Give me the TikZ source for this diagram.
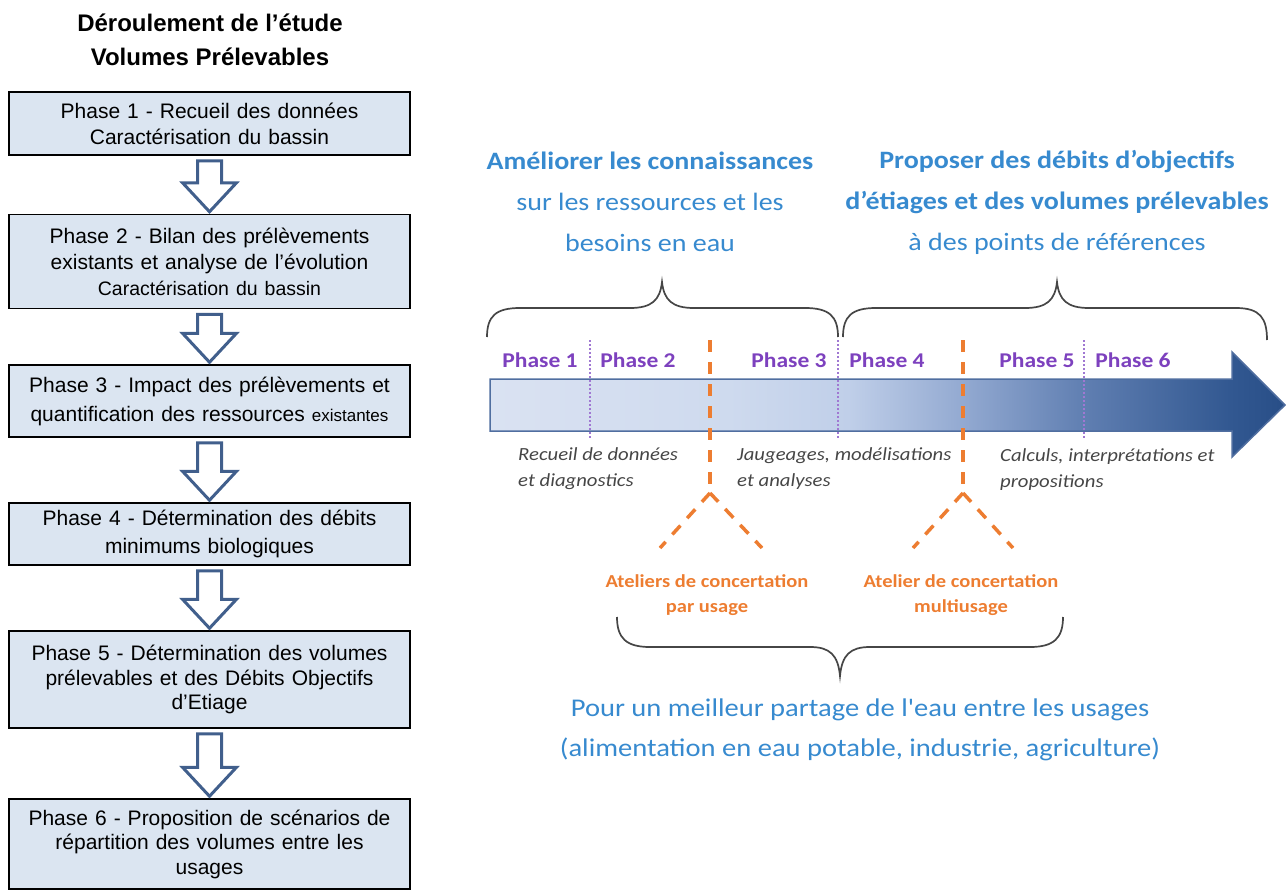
\documentclass[tikz,border=0pt]{standalone}
\usepackage{fontspec}
\setmainfont{Liberation Sans}
\newfontfamily\calfont[FakeStretch=1.12]{Carlito}
\usetikzlibrary{calc}
\definecolor{boxfill}{RGB}{219,229,241}
\definecolor{arrblue}{RGB}{65,95,140}
\definecolor{headblue}{RGB}{55,138,207}
\definecolor{phasepurple}{RGB}{125,65,190}
\definecolor{seppurple}{RGB}{160,120,210}
\definecolor{oranged}{RGB}{237,125,49}
\definecolor{itgray}{RGB}{70,70,70}
\definecolor{bracegray}{RGB}{70,70,70}
\definecolor{baredge}{RGB}{80,110,160}
\definecolor{g0}{RGB}{218,226,242}
\definecolor{g1}{RGB}{206,218,238}
\definecolor{g2}{RGB}{192,207,233}
\definecolor{g3}{RGB}{145,168,208}
\definecolor{g4}{RGB}{95,126,177}
\definecolor{g5}{RGB}{50,88,145}
\definecolor{g6}{RGB}{40,78,135}
\pgfdeclarehorizontalshading{barshade}{100bp}{color(0bp)=(g0); color(25bp)=(g0); color(40bp)=(g1); color(47.5bp)=(g2); color(55bp)=(g3); color(62.5bp)=(g4); color(71.5bp)=(g5); color(75bp)=(g6); color(100bp)=(g6)}
\newcommand\blockarrow[2]{%
  \draw[blockarr] let \p1=(#1.south), \p2=(#2.north), \n1={\y1-5pt}, \n2={\y2+2pt}, \n3={\y2+31pt} in
  (\x1-12pt,\n1) -- (\x1+12pt,\n1) -- (\x1+12pt,\n3) -- (\x1+27pt,\n3) -- (\x1,\n2)
  -- (\x1-27pt,\n3) -- (\x1-12pt,\n3) -- cycle;}
\begin{document}
\begin{tikzpicture}[x=1pt,y=-1pt,
  phasebox/.style={draw=black, line width=1.5pt, fill=boxfill, minimum width=401pt,
    text width=395pt, align=center, inner sep=0pt, font=\fontsize{21}{26}\selectfont},
  blockarr/.style={draw=arrblue, line width=3pt, fill=white, line join=miter},
  headtxt/.style={align=center, inner sep=0pt, text=headblue, font=\calfont\fontsize{25}{41}\selectfont},
  phaselbl/.style={inner sep=0pt, text=phasepurple, font=\calfont\fontsize{21}{24}\selectfont\bfseries},
  itxt/.style={align=left, inner sep=0pt, text=itgray, font=\calfont\fontsize{18.5}{26}\selectfont\itshape},
  otxt/.style={align=center, inner sep=0pt, text=oranged, font=\calfont\fontsize{18.3}{25}\selectfont\bfseries},
  btxt/.style={align=center, inner sep=0pt, text=headblue, font=\calfont\fontsize{25.5}{40}\selectfont},
  brace/.style={draw=bracegray, line width=1.7pt},
  sep/.style={draw=seppurple, line width=1.3pt, dash pattern=on 2pt off 2pt},
  odash/.style={draw=oranged, line width=3.5pt, dash pattern=on 12pt off 10pt}
]
\path[use as bounding box] (0,0) rectangle (1286,891);

% ---------- left column ----------
\node[align=center, inner sep=0pt, font=\fontsize{24}{34}\selectfont\bfseries] (title) at (210,40)
  {Déroulement de l’étude\\Volumes Prélevables};

\node[phasebox, minimum height=63pt] (b1) at (209.5,123.5)
  {Phase 1 - Recueil des données\\Caractérisation du bassin};
\node[phasebox, minimum height=94pt] (b2) at (209.5,261.5)
  {Phase 2 - Bilan des prélèvements\\existants et analyse de l’évolution\\{\fontsize{19.5}{24}\selectfont Caractérisation du bassin}};
\node[phasebox, minimum height=72pt, font=\fontsize{21}{29}\selectfont] (b3) at (209.5,401)
  {Phase 3 - Impact des prélèvements et\\quantification des ressources {\fontsize{17}{29}\selectfont existantes}};
\node[phasebox, minimum height=62pt, font=\fontsize{21}{28}\selectfont] (b4) at (209.5,534)
  {Phase 4 - Détermination des débits\\minimums biologiques};
\node[phasebox, minimum height=97pt, font=\fontsize{21}{24.5}\selectfont] (b5) at (209.5,679.5)
  {Phase 5 - Détermination des volumes\\prélevables et des Débits Objectifs\\d’Etiage};
\node[phasebox, minimum height=90pt, font=\fontsize{21}{24.5}\selectfont] (b6) at (209.5,844)
  {Phase 6 - Proposition de scénarios de\\répartition des volumes entre les\\usages};

\blockarrow{b1}{b2}
\blockarrow{b2}{b3}
\blockarrow{b3}{b4}
\blockarrow{b4}{b5}
\blockarrow{b5}{b6}

% ---------- right part ----------
\node[headtxt] (hl) at (650,202)
  {{\bfseries Améliorer les connaissances}\\sur les ressources et les\\besoins en eau};
\node[headtxt] (hr) at (1057,202)
  {{\bfseries Proposer des débits d’objectifs}\\{\bfseries d’étiages et des volumes prélevables}\\à des points de références};

% upper braces
\draw[brace] (487,337) .. controls (487,316) and (496,308) .. (520,308) -- (630,308)
  .. controls (652,308) and (660,300) .. (662,282)
  .. controls (664,300) and (672,308) .. (694,308) -- (805,308)
  .. controls (829,308) and (838,316) .. (838,337);
\draw[brace] (843,337) .. controls (843,316) and (852,308) .. (876,308) -- (1025,308)
  .. controls (1047,308) and (1055,300) .. (1057,282)
  .. controls (1059,300) and (1067,308) .. (1089,308) -- (1236,308)
  .. controls (1260,308) and (1267,318) .. (1267,340);

% timeline arrow
\path[shade, shading=barshade, draw=baredge, line width=1.5pt, line join=miter]
  (490,379) -- (1232,379) -- (1232,352) -- (1285,405) -- (1232,457) -- (1232,431) -- (490,431) -- cycle;

% phase separators
\draw[sep] (590,340) -- (590,438);
\draw[sep] (838,340) -- (838,438);
\draw[sep] (1084,340) -- (1084,438);

% phase labels
\node[phaselbl] (p1) at (540,360) {Phase 1};
\node[phaselbl] (p2) at (638,360) {Phase 2};
\node[phaselbl] (p3) at (789,360) {Phase 3};
\node[phaselbl] (p4) at (887,360) {Phase 4};
\node[phaselbl] (p5) at (1037,360) {Phase 5};
\node[phaselbl] (p6) at (1133,360) {Phase 6};

% italic descriptions
\node[itxt, anchor=west] (i1) at (518,469) {Recueil de données\\et diagnostics};
\node[itxt, anchor=west] (i2) at (737,469) {Jaugeages, modélisations\\et analyses};
\node[itxt, anchor=west] (i3) at (1000,470) {Calculs, interprétations et\\propositions};

% orange workshops
\coordinate (a1) at (710,493);
\coordinate (a2) at (963,493);
\draw[odash] (710,340) -- (710,489);
\draw[odash] (a1) -- (660,548);
\draw[odash] (a1) -- (762,548);
\draw[odash] (963,340) -- (963,489);
\draw[odash] (a2) -- (913,548);
\draw[odash] (a2) -- (1013,548);

\node[otxt] (o1) at (707,595) {Ateliers de concertation\\par usage};
\node[otxt] (o2) at (961,595) {Atelier de concertation\\multiusage};

% lower brace
\draw[brace] (617,617) .. controls (617,638) and (626,647) .. (650,647) -- (810,647)
  .. controls (830,647) and (838,655) .. (840,676)
  .. controls (842,655) and (850,647) .. (870,647) -- (1030,647)
  .. controls (1054,647) and (1063,638) .. (1063,617);

\node[btxt] (bt) at (860,730)
  {Pour un meilleur partage de l'eau entre les usages\\(alimentation en eau potable, industrie, agriculture)};
\end{tikzpicture}
\end{document}
